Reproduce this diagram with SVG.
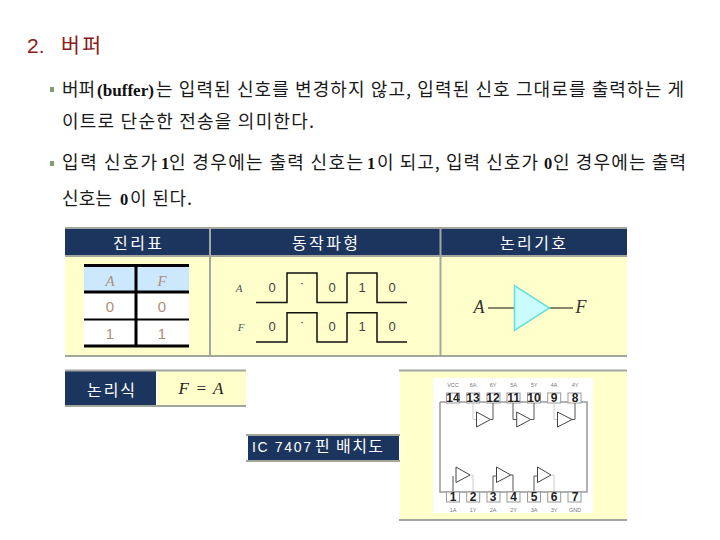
<svg xmlns="http://www.w3.org/2000/svg" width="720" height="540" viewBox="0 0 720 540">
<style>
.k{font-family:"Noto Sans CJK KR","Noto Sans",sans-serif;font-size:18px;fill:#1a1a1a}
.b{font-family:"Liberation Serif",serif;font-weight:700;font-size:16.500px;fill:#111}
.h{font-family:"Noto Sans CJK KR","Noto Sans",sans-serif;font-size:16px;fill:#fff}
.navy{fill:#1c355e}.cream{fill:#ffffcc}.gl{fill:#a3a69f}
.tt{font-family:"Liberation Sans",sans-serif;font-size:15px;fill:#ad8f78;text-anchor:middle}
.it{font-family:"Liberation Serif",serif;font-style:italic;text-anchor:middle}
.wv{font-family:"Liberation Sans",sans-serif;font-size:13px;fill:#444;text-anchor:middle}
.wave{fill:none;stroke:#111;stroke-width:1.5}
.pin{fill:#fff;stroke:#999;stroke-width:1}
.pn{font-family:"Liberation Sans",sans-serif;font-weight:700;font-size:12px;fill:#222;text-anchor:middle}
.pl{font-family:"Liberation Sans",sans-serif;font-size:5.500px;fill:#777;text-anchor:middle}
.gate{fill:#fff;stroke:#444;stroke-width:1}
.w{fill:none;stroke:#555;stroke-width:1}
.f{fill:none;stroke:#ccc;stroke-width:1}
.bul{fill:#7f9f6f}
</style>
<rect width="720" height="540" fill="#fff"/>
<g id="title">
<text x="27" y="53" font-family="Liberation Sans, sans-serif" font-size="21" fill="#8b1a1a">2.</text>
<text x="61" y="53" font-family="Noto Sans CJK KR, sans-serif" font-size="20.500" fill="#8b1a1a" textLength="40">버퍼</text>
</g>
<g id="body">
<rect class="bul" x="50" y="87" width="4" height="5"/>
<text class="k" x="62" y="96" textLength="33">버퍼</text>
<text class="b" x="97" y="96" textLength="57" lengthAdjust="spacingAndGlyphs">(buffer)</text>
<text class="k" x="156" y="96" textLength="528">는 입력된 신호를 변경하지 않고, 입력된 신호 그대로를 출력하는 게</text>
<text class="k" x="62" y="128" textLength="252">이트로 단순한 전송을 의미한다.</text>
<rect class="bul" x="50" y="161" width="4" height="5"/>
<text class="k" x="62" y="169" textLength="95">입력 신호가</text>
<text class="b" x="161" y="169">1</text>
<text class="k" x="169" y="169" textLength="194">인 경우에는 출력 신호는</text>
<text class="b" x="367" y="169">1</text>
<text class="k" x="377" y="169" textLength="161">이 되고, 입력 신호가</text>
<text class="b" x="544" y="169">0</text>
<text class="k" x="553" y="169" textLength="133">인 경우에는 출력</text>
<text class="k" x="62" y="205" textLength="50">신호는</text>
<text class="b" x="120" y="205">0</text>
<text class="k" x="130" y="205" textLength="62">이 된다.</text>
</g>
<g id="table-frame">
<rect class="cream" x="65" y="255" width="562" height="100"/>
<rect class="navy" x="65" y="228" width="562" height="27"/>
<rect class="gl" x="65" y="227" width="562" height="2"/>
<rect class="gl" x="65" y="255" width="562" height="2"/>
<rect class="gl" x="65" y="355" width="562" height="2"/>
<rect class="gl" x="209" y="227" width="2" height="130"/>
<rect class="gl" x="439.500" y="227" width="2" height="130"/>
<text class="h" x="113" y="249" textLength="49">진리표</text>
<text class="h" x="292" y="249" textLength="66">동작파형</text>
<text class="h" x="500" y="249" textLength="66">논리기호</text>
</g>
<g id="truth-table">
<rect x="84" y="265" width="105" height="81" fill="#fff"/>
<rect x="84" y="265" width="105" height="27" fill="#cce8ff"/>
<path d="M84 265.500H189M84 292H189M84 346H189" stroke="#000" stroke-width="3" fill="none"/>
<path d="M84 319.500H189" stroke="#000" stroke-width="2" fill="none"/>
<path d="M136 265V346" stroke="#000" stroke-width="3" fill="none"/>
<text class="it" x="110" y="286" font-size="15" fill="#ad8f78">A</text>
<text class="it" x="162" y="286" font-size="15" fill="#ad8f78">F</text>
<text class="tt" x="110" y="312">0</text><text class="tt" x="162" y="312">0</text>
<text class="tt" x="110" y="339">1</text><text class="tt" x="162" y="339">1</text>
</g>
<g id="waveform">
<path class="wave" d="M256 302.500H287V273H317V302.500H347V273H377V302.500H407"/>
<path class="wave" d="M256 342H287V312.700H317V342H347V312.700H377V342H407"/>
<text class="it" x="239" y="292" font-size="11" fill="#555">A</text>
<text class="it" x="241" y="331" font-size="11" fill="#555">F</text>
<text class="wv" x="272" y="292">0</text><text class="wv" x="302" y="287">·</text><text class="wv" x="332" y="292">0</text><text class="wv" x="362" y="292">1</text><text class="wv" x="392" y="292">0</text>
<text class="wv" x="272" y="331">0</text><text class="wv" x="302" y="326">·</text><text class="wv" x="332" y="331">0</text><text class="wv" x="362" y="331">1</text><text class="wv" x="392" y="331">0</text>
</g>
<g id="logic-symbol">
<path d="M488 308H514M549 308H573" stroke="#111" stroke-width="1" fill="none"/>
<path d="M514.500 285.500V330.500L549.500 308Z" fill="#c9fbff" stroke="#66dde0" stroke-width="1.500"/>
<text class="it" x="479" y="313" font-size="18" fill="#333">A</text>
<text class="it" x="581" y="313" font-size="18" fill="#333">F</text>
</g>
<g id="logic-expression">
<rect class="cream" x="157" y="371" width="89" height="34"/>
<rect class="navy" x="65" y="371" width="91" height="34"/>
<rect class="gl" x="65" y="369.500" width="181" height="2"/>
<rect class="gl" x="65" y="405" width="181" height="2"/>
<text class="h" x="87" y="396" textLength="48">논리식</text>
<text class="it" x="201" y="394" font-size="17" fill="#222" textLength="45">F = A</text>
</g>
<g id="ic-label">
<rect class="navy" x="248" y="436" width="151" height="24"/>
<rect class="gl" x="246" y="434" width="154" height="2"/>
<rect class="gl" x="246" y="460" width="154" height="2"/>
<text x="252" y="452" font-family="Liberation Sans, sans-serif" font-size="14" fill="#fff" textLength="59">IC 7407</text>
<text x="315" y="452" font-family="Noto Sans CJK KR, sans-serif" font-size="16" fill="#fff" textLength="68">핀 배치도</text>
</g>
<g id="ic-diagram">
<rect class="cream" x="400" y="371" width="227" height="148"/>
<rect class="gl" x="399" y="369.500" width="228" height="2"/>
<rect class="gl" x="399" y="519" width="228" height="2"/>
<rect x="433" y="378" width="160" height="135" fill="#fff"/>
<path d="M440 402V492H587V402H440" fill="none" stroke="#999" stroke-width="1.500"/>
<rect class="pin" x="446.500" y="393" width="13" height="10"/><rect class="pin" x="466.700" y="393" width="13" height="10"/><rect class="pin" x="487" y="393" width="13" height="10"/><rect class="pin" x="507" y="393" width="13" height="10"/><rect class="pin" x="527.500" y="393" width="13" height="10"/><rect class="pin" x="547.700" y="393" width="13" height="10"/><rect class="pin" x="568" y="393" width="13" height="10"/>
<rect class="pin" x="446.500" y="492" width="13" height="10"/><rect class="pin" x="466.700" y="492" width="13" height="10"/><rect class="pin" x="487" y="492" width="13" height="10"/><rect class="pin" x="507" y="492" width="13" height="10"/><rect class="pin" x="527.500" y="492" width="13" height="10"/><rect class="pin" x="547.700" y="492" width="13" height="10"/><rect class="pin" x="568" y="492" width="13" height="10"/>
<path class="w" d="M493 403V419.500H490.500M513 403V419.500H517M534 403V419.500H530.700M575 403V419.500H572M453 491V476M493 491V476H496.500M513 491V475H510.700M534 491V476H537.500"/>
<path class="f" d="M473 403V419.500H476.500M554 403V419.500H557.500M473 491V475H470M554 491V475H551"/>
<path class="gate" d="M476.500 412V427L490.500 419.500Z"/><path class="gate" d="M516.700 412V427L530.700 419.500Z"/><path class="gate" d="M557.500 412V427L572 419.500Z"/>
<path class="gate" d="M456 467V482.500L470 475Z"/><path class="gate" d="M496.500 467V482.500L510.700 475Z"/><path class="gate" d="M537.500 467V482.500L551 475Z"/>
<text class="pn" x="453" y="402">14</text><text class="pn" x="473" y="402">13</text><text class="pn" x="493" y="402">12</text><text class="pn" x="513.500" y="402">11</text><text class="pn" x="534" y="402">10</text><text class="pn" x="554" y="402">9</text><text class="pn" x="575" y="402">8</text>
<text class="pn" x="453" y="501">1</text><text class="pn" x="473" y="501">2</text><text class="pn" x="493" y="501">3</text><text class="pn" x="513.500" y="501">4</text><text class="pn" x="534" y="501">5</text><text class="pn" x="554" y="501">6</text><text class="pn" x="575" y="501">7</text>
<text class="pl" x="453" y="387">VCC</text><text class="pl" x="473" y="387">6A</text><text class="pl" x="493" y="387">6Y</text><text class="pl" x="513.500" y="387">5A</text><text class="pl" x="534" y="387">5Y</text><text class="pl" x="554" y="387">4A</text><text class="pl" x="575" y="387">4Y</text>
<text class="pl" x="453" y="512">1A</text><text class="pl" x="473" y="512">1Y</text><text class="pl" x="493" y="512">2A</text><text class="pl" x="513.500" y="512">2Y</text><text class="pl" x="534" y="512">3A</text><text class="pl" x="554" y="512">3Y</text><text class="pl" x="575" y="512">GND</text>
</g>
</svg>
